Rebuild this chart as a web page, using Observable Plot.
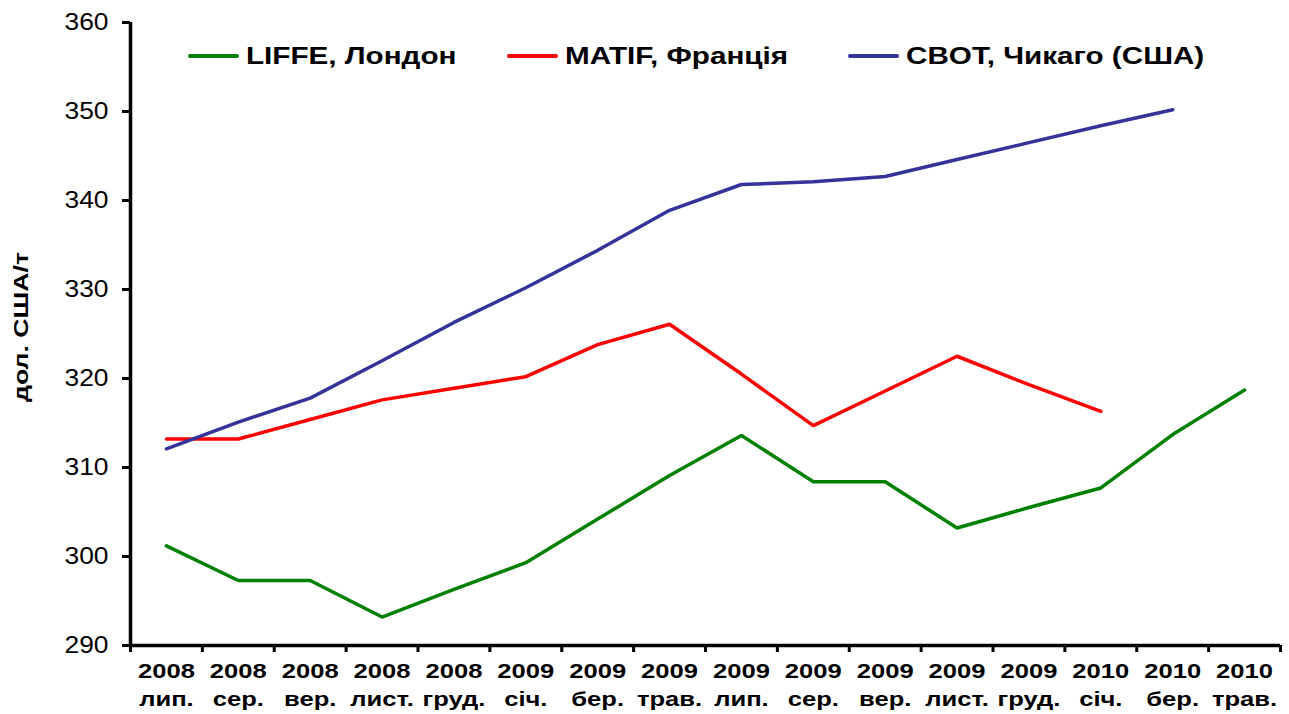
<!DOCTYPE html>
<html>
<head>
<meta charset="utf-8">
<script src="https://cdn.jsdelivr.net/npm/d3@7"></script>
<script src="https://cdn.jsdelivr.net/npm/@observablehq/plot@0.6"></script>
<style>
  html, body { margin: 0; padding: 0; background: #fff; }
  #wrap { position: relative; width: 1289px; height: 714px; font-family: "Liberation Sans", Arial, sans-serif; }
  #legend { position: absolute; top: 42px; left: 0; width: 1289px; height: 34px; font-weight: bold; font-size: 24.5px; color: #000; }
  .item { position: absolute; display: flex; align-items: center; white-space: nowrap; }
  .sw { display: inline-block; width: 51px; height: 4px; margin-right: 7px; border-radius: 2px; }
  .lt { display: inline-block; transform: scaleX(1.21); transform-origin: left center; }
</style>
</head>
<body>
<div id="wrap">
  <div id="chart"></div>
  <div id="legend"></div>
</div>
<script>
const years  = ["2008","2008","2008","2008","2008","2009","2009","2009","2009","2009","2009","2009","2009","2010","2010","2010"];
const months = ["лип.","сер.","вер.","лист.","груд.","січ.","бер.","трав.","лип.","сер.","вер.","лист.","груд.","січ.","бер.","трав."];
const liffe = [301.2, 297.3, 297.3, 293.2, 296.3, 299.3, 304.2, 309.1, 313.6, 308.4, 308.4, 303.2, 305.5, 307.7, 313.7, 318.7];
const matif = [313.2, 313.2, 315.4, 317.6, 318.9, 320.2, 323.8, 326.1, 320.5, 314.7, 318.6, 322.5, 319.3, 316.3, null, null];
const cbot  = [312.1, 315.1, 317.8, 322.0, 326.3, 330.2, 334.4, 338.9, 341.8, 342.1, 342.7, 344.6, 346.5, 348.4, 350.2, null];
const seriesNames = ["LIFFE, Лондон", "MATIF, Франція", "CBOT, Чикаго (США)"];
const seriesColors = ["#008000", "#ff0000", "#333399"];
const yTicks = [290, 300, 310, 320, 330, 340, 350, 360];
const yLabel = "дол. США/т";

const idx = years.map((_, i) => i);
const boundaries = d3.range(-0.5, years.length, 1);
const labels = idx.map(i => ({i, t: years[i] + "\n" + months[i]}));
const rows = [];
[liffe, matif, cbot].forEach((arr, s) => arr.forEach((v, i) => { if (v != null) rows.push({s: seriesNames[s], i, v}); }));

const chart = Plot.plot({
  width: 1289,
  height: 714,
  marginLeft: 130,
  marginRight: 9,
  marginTop: 22,
  marginBottom: 69,
  style: {fontFamily: "'Liberation Sans', Arial, sans-serif", background: "#fff"},
  x: {type: "linear", domain: [-0.5, years.length - 0.5], axis: null},
  y: {domain: [290, 360], axis: null},
  color: {domain: seriesNames, range: seriesColors},
  marks: [
    Plot.axisY({ticks: yTicks, tickSize: 8, tickPadding: 14, fontSize: 24, strokeWidth: 3, label: null, tickFormat: d3.format("d")}),
    Plot.axisX({ticks: boundaries, tickSize: 7, strokeWidth: 3, tickFormat: () => "", label: null}),
    Plot.text(labels, {x: "i", text: "t", frameAnchor: "bottom", dy: 13, lineAnchor: "top", fontSize: 20, fontWeight: "bold", lineHeight: 1.4}),
    Plot.text([yLabel], {text: d => d, frameAnchor: "left", textAnchor: "middle", rotate: -90, dx: -109, dy: -7, fontSize: 20.5, fontWeight: "bold"}),
    Plot.line(rows, {x: "i", y: "v", z: "s", stroke: "s", strokeWidth: 3.5, strokeLinejoin: "miter", curve: "linear"}),
    Plot.ruleY([290], {strokeWidth: 3.5}),
    Plot.ruleX([-0.5], {strokeWidth: 3.5})
  ]
});
document.getElementById("chart").appendChild(chart);

// widen glyphs to match the reference's stretched text
const textGroups = chart.querySelectorAll('g[aria-label="text"]');
if (textGroups[0]) textGroups[0].querySelectorAll("text").forEach(t => {
  const tr = t.getAttribute("transform") || "";
  t.setAttribute("transform", tr + " scale(1.28,1)");
});
if (textGroups[1]) textGroups[1].querySelectorAll("text").forEach(t => {
  const tr = t.getAttribute("transform") || "";
  t.setAttribute("transform", tr + " scale(1.3,1)");
});
chart.querySelectorAll('g[aria-label="y-axis tick label"] text').forEach(t => {
  const tr = t.getAttribute("transform") || "";
  t.setAttribute("transform", tr + " scale(1.1,1)");
});

const legendPos = [188, 507, 848];
const leg = document.getElementById("legend");
seriesNames.forEach((n, k) => {
  const it = document.createElement("div");
  it.className = "item";
  it.style.left = legendPos[k] + "px";
  it.innerHTML = `<span class="sw" style="background:${seriesColors[k]}"></span><span class="lt">${n}</span>`;
  leg.appendChild(it);
});
</script>
</body>
</html>
